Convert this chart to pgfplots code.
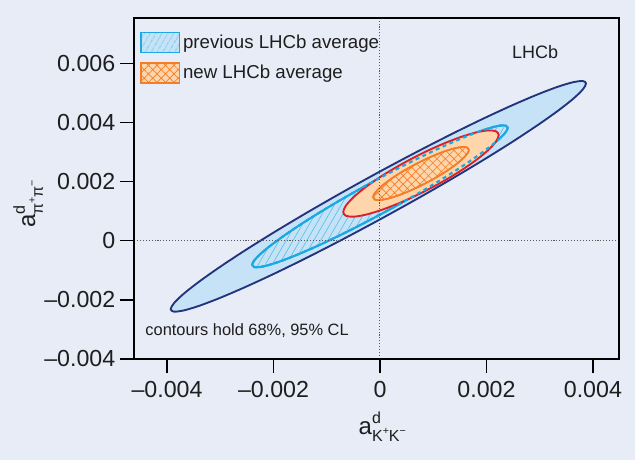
\documentclass[border=0pt]{standalone}
\usepackage{fontspec}
\setmainfont{Liberation Sans}
\usepackage{pgfplots}
\usepackage{pgfplotstable}
\pgfplotsset{compat=1.18}
\usetikzlibrary{patterns.meta}

\definecolor{bg}{RGB}{232,236,247}
\definecolor{navy}{RGB}{35,52,125}
\definecolor{lblue}{RGB}{197,226,246}
\definecolor{cyanl}{RGB}{28,168,226}
\definecolor{redl}{RGB}{218,32,40}
\definecolor{peach}{RGB}{255,214,172}
\definecolor{orangel}{RGB}{244,125,40}
\definecolor{dotgray}{RGB}{90,90,90}
\definecolor{txt}{RGB}{30,30,30}

% values in units of 10^-3
\pgfplotstableread{
x y
-0.030 0.689
-0.707 0.039
-1.364 -0.567
-1.980 -1.110
-2.537 -1.573
-3.017 -1.943
-3.407 -2.209
-3.695 -2.362
-3.871 -2.398
-3.930 -2.315
-3.871 -2.116
-3.695 -1.807
-3.407 -1.398
-3.017 -0.901
-2.537 -0.331
-1.980 0.295
-1.364 0.957
-0.707 1.636
-0.030 2.311
0.647 2.961
1.304 3.567
1.920 4.110
2.477 4.573
2.957 4.943
3.347 5.209
3.635 5.362
3.811 5.398
3.870 5.315
3.811 5.116
3.635 4.807
3.347 4.398
2.957 3.901
2.477 3.331
1.920 2.705
1.304 2.043
0.647 1.364
-0.030 0.689
}\prevninetyfive

\pgfplotstableread{
x y
0.000 0.879
-0.417 0.486
-0.821 0.123
-1.200 -0.197
-1.543 -0.466
-1.838 -0.675
-2.078 -0.818
-2.255 -0.891
-2.364 -0.891
-2.400 -0.818
-2.364 -0.675
-2.255 -0.466
-2.078 -0.197
-1.838 0.123
-1.543 0.486
-1.200 0.879
-0.821 1.291
-0.417 1.709
0.000 2.121
0.417 2.514
0.821 2.877
1.200 3.197
1.543 3.466
1.838 3.675
2.078 3.818
2.255 3.891
2.364 3.891
2.400 3.818
2.364 3.675
2.255 3.466
2.078 3.197
1.838 2.877
1.543 2.514
1.200 2.121
0.821 1.709
0.417 1.291
0.000 0.879
}\prevsixtyeight

\pgfplotstableread{
x y
0.770 1.607
0.392 1.293
0.040 1.046
-0.262 0.881
-0.494 0.812
-0.640 0.842
-0.690 0.969
-0.640 1.185
-0.494 1.475
-0.262 1.819
0.040 2.194
0.392 2.573
0.770 2.933
1.148 3.247
1.500 3.494
1.802 3.659
2.034 3.728
2.180 3.698
2.230 3.571
2.180 3.355
2.034 3.065
1.802 2.721
1.500 2.346
1.148 1.967
0.770 1.607
}\newninetyfive

\pgfplotstableread{
x y
0.770 1.861
0.537 1.668
0.320 1.515
0.134 1.414
-0.009 1.371
-0.099 1.390
-0.130 1.468
-0.099 1.601
-0.009 1.780
0.134 1.992
0.320 2.223
0.537 2.457
0.770 2.679
1.003 2.872
1.220 3.025
1.406 3.126
1.549 3.169
1.639 3.150
1.670 3.072
1.639 2.939
1.549 2.760
1.406 2.548
1.220 2.317
1.003 2.083
0.770 1.861
}\newsixtyeight

\begin{document}
\begin{tikzpicture}
\fill[bg] (-100.5pt,-75.75pt) rectangle (375.75pt,269.25pt);
\begin{axis}[
  scale only axis, width=363.75pt, height=255.75pt,
  xmin=-4.62, xmax=4.49, ymin=-4, ymax=7.53,
  axis line style={line width=1pt, black},
  xtick={-4,-2,0,2,4}, xticklabels={–0.004,–0.002,0,0.002,0.004},
  ytick={-4,-2,0,2,4,6}, yticklabels={–0.004,–0.002,0,0.002,0.004,0.006},
  tick align=outside, major tick length=10.5pt,
  tick style={line width=1pt, black},
  xtick pos=bottom, ytick pos=left,
  tick label style={font=\fontsize{17.4}{19}\selectfont, text=txt},
  xticklabel style={yshift=-2.5pt},
  xlabel={a\rlap{\raisebox{0.42em}{\fontsize{12}{14}\selectfont d}}\raisebox{-0.33em}{\fontsize{12}{14}\selectfont K\raisebox{0.45em}{\fontsize{8}{9}\selectfont +}K\raisebox{0.45em}{\fontsize{8}{9}\selectfont −}}},
  ylabel={a\rlap{\raisebox{0.42em}{\fontsize{12}{14}\selectfont d}}\raisebox{-0.33em}{\fontsize{12}{14}\selectfont π\raisebox{0.45em}{\fontsize{8}{9}\selectfont +}π\raisebox{0.45em}{\fontsize{8}{9}\selectfont −}}},
  xlabel style={at={(axis description cs:0.512,-0.22)}, anchor=base, font=\fontsize{18}{20}\selectfont, text=txt},
  ylabel style={at={(axis description cs:-0.2041,0.455)}, anchor=base, font=\fontsize{18}{20}\selectfont, text=txt},
  legend style={at={(axis description cs:0,1)}, anchor=north west, draw=none, fill=none,
    font=\fontsize{14}{16}\selectfont, text=txt, row sep=7pt, inner xsep=4.5pt, inner ysep=10pt},
  legend cell align=left,
  axis on top,
]
\addlegendimage{legend image code/.code={\draw[draw=cyanl, line width=1.1pt, fill=lblue, postaction={pattern={Lines[angle=60,distance=4pt,line width=0.5pt]}, pattern color=cyanl}] (0pt,-7.5pt) rectangle (29pt,7.5pt);}}
\addlegendentry{previous LHCb average}
\addlegendimage{legend image code/.code={\draw[draw=orangel, line width=1.1pt, fill=peach, postaction={pattern={Hatch[angle=45,distance=4.5pt,line width=0.5pt]}, pattern color=orangel}] (0pt,-7.5pt) rectangle (29pt,7.5pt);}}
\addlegendentry{new LHCb average}

\addplot[forget plot, smooth, draw=navy, line width=1.4pt, fill=lblue] table {\prevninetyfive};
\addplot[forget plot, smooth, draw=cyanl, line width=1.4pt, fill=lblue, postaction={pattern={Lines[angle=60,distance=4.5pt,line width=0.45pt]}, pattern color=cyanl!75}] table {\prevsixtyeight};
\addplot[forget plot, smooth, draw=redl, line width=1.4pt, fill=peach] table {\newninetyfive};
\addplot[forget plot, smooth, draw=orangel, line width=1.2pt, fill=peach, postaction={pattern={Hatch[angle=45,distance=4.5pt,line width=0.5pt]}, pattern color=orangel}] table {\newsixtyeight};
\addplot[forget plot, smooth, draw=cyanl, line width=1.6pt, dash pattern=on 3pt off 2.6pt] table {\prevsixtyeight};

\addplot[forget plot, dotgray, line width=0.8pt, dash pattern=on 0.8pt off 1.4pt] coordinates {(0,-4) (0,7.53)};
\addplot[forget plot, dotgray, line width=0.8pt, dash pattern=on 0.8pt off 1.4pt] coordinates {(-4.62,0) (4.49,0)};

\node[anchor=base, font=\fontsize{13.5}{16}\selectfont, text=txt] at (axis cs:2.913,6.15) {LHCb};
\node[anchor=base west, inner sep=0pt, font=\fontsize{12.3}{14}\selectfont, text=txt] at (axis cs:-4.41,-3.21) {contours hold 68\%, 95\% CL};
\end{axis}
\end{tikzpicture}
\end{document}
